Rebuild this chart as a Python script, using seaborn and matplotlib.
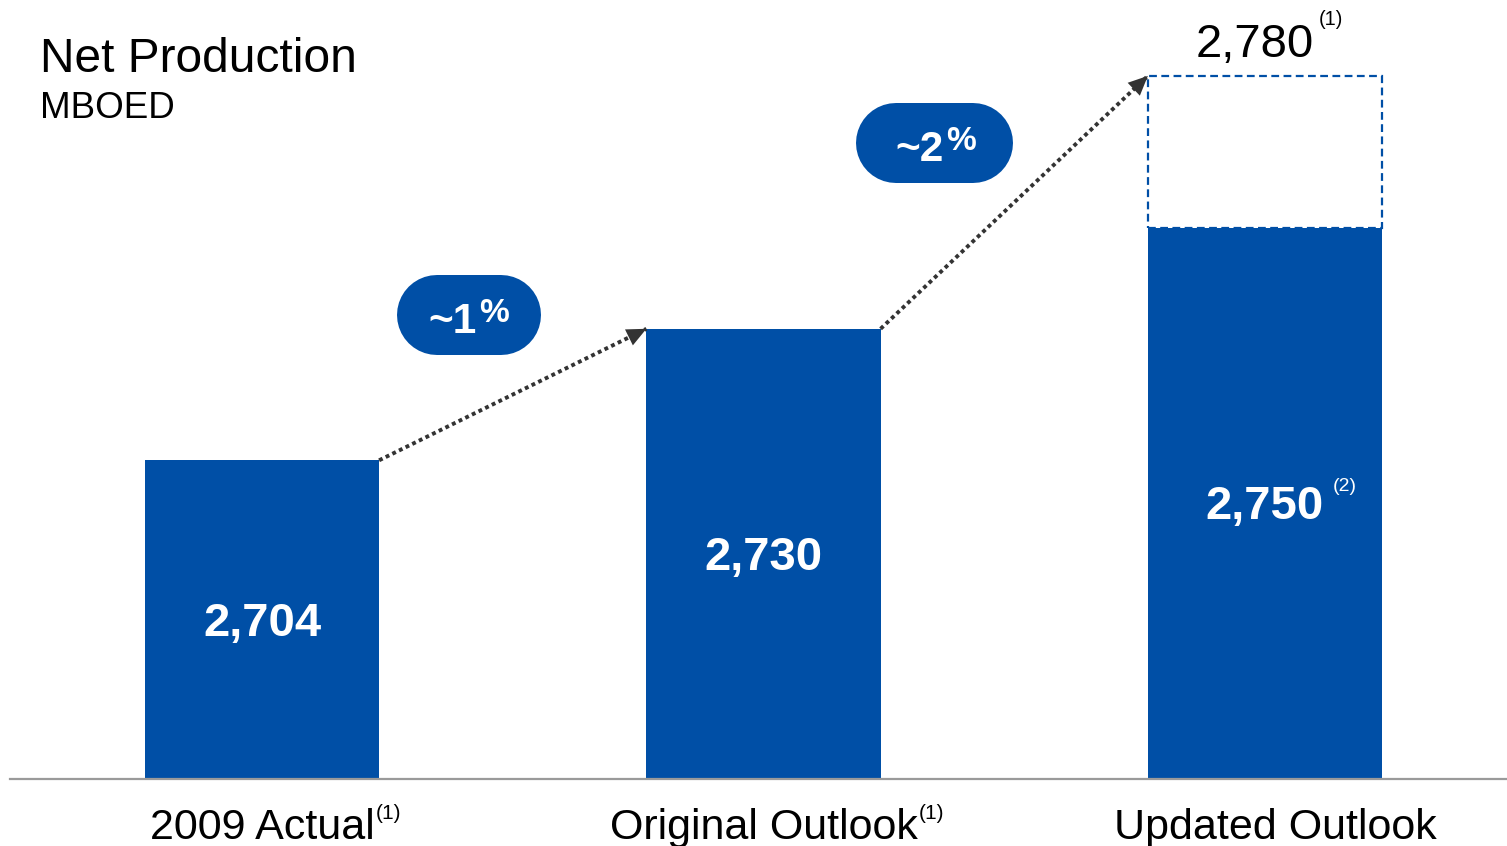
import matplotlib
matplotlib.use("Agg")
import matplotlib.pyplot as plt
from matplotlib.patches import Rectangle
from matplotlib.lines import Line2D
from matplotlib.transforms import IdentityTransform, offset_copy
import seaborn as sns
import pandas as pd

# ---------------- data ----------------
categories = ["2009 Actual", "Original Outlook", "Updated Outlook"]
values = [2704, 2730, 2750]
value_labels = ["2,704", "2,730", "2,750"]
category_notes = ["(1)", "(1)", ""]
value_notes = ["", "", "(2)"]
outlook_high = 2780
outlook_high_label = "2,780"
outlook_high_note = "(1)"
growth_labels = ["~1", "~2"]
growth_suffix = "%"
title = "Net Production"
subtitle = "MBOED"

# ---------------- style ----------------
BLUE = "#004FA6"
ARROW = "#333333"
W, H, DPI = 1507, 846, 100
BAR_W = 0.467
Y0, Y1 = 2641, 2795

sns.set_theme(style="white")
plt.rcParams["font.family"] = ["Liberation Sans", "DejaVu Sans"]

fig = plt.figure(figsize=(W / DPI, H / DPI), dpi=DPI)
fig.patch.set_facecolor("white")
ax = fig.add_axes([10 / W, 67 / H, 1497 / W, 779 / H])

df = pd.DataFrame({"category": categories, "value": values})
sns.barplot(data=df, x="category", y="value", color=BLUE, saturation=1,
            width=BAR_W, linewidth=0, ax=ax, zorder=2)

ax.set_ylim(Y0, Y1)
ax.set_xlim(-0.5025, 2.4826)
ax.set_xlabel("")
ax.set_ylabel("")
ax.set_yticks([])
for s in ["top", "left", "right"]:
    ax.spines[s].set_visible(False)
ax.spines["bottom"].set_color("#9a9a9a")
ax.spines["bottom"].set_linewidth(1.6)
ax.tick_params(axis="x", length=0, labelsize=31, pad=21, colors="black")
# last category label sits slightly right of its bar centre in the original
lbl = ax.get_xticklabels()[2]
lbl.set_transform(offset_copy(lbl.get_transform(), fig=fig, x=10, y=0, units="dots"))

# dashed outlook box
ax.add_patch(Rectangle((2 - BAR_W / 2, values[2]), BAR_W, outlook_high - values[2],
                       fill=False, edgecolor=BLUE, linestyle=(0, (3.5, 2)),
                       linewidth=1.6, zorder=3))

# value labels inside bars
val_texts = []
for i, (v, lab) in enumerate(zip(values, value_labels)):
    t = ax.annotate(lab, xy=(i, (Y0 + v) / 2), xytext=(0, -4), textcoords="offset pixels",
                    ha="center", va="center", color="white",
                    fontsize=34, fontweight="bold", zorder=4)
    val_texts.append(t)

high_text = ax.annotate(outlook_high_label, xy=(2, outlook_high), xytext=(-10, 19),
                        textcoords="offset pixels", ha="center", va="baseline",
                        fontsize=34, color="black")

# dotted arrows
hw = BAR_W / 2
segs = [((0 + hw, values[0]), (1 - hw, values[1])),
        ((1 + hw, values[1]), (2 - hw, outlook_high))]
for (x0, y0), (x1, y1) in segs:
    ax.plot([x0, x1], [y0, y1], color=ARROW, lw=2.8, linestyle=(0, (1, 0.9)),
            dash_capstyle="butt", zorder=3)
    ax.annotate("", xy=(x1, y1), xytext=(x1 - (x1 - x0) * 0.05, y1 - (y1 - y0) * 0.05),
                arrowprops=dict(arrowstyle="-|>,head_length=0.7,head_width=0.32",
                                color=ARROW, lw=0, shrinkA=0, shrinkB=0,
                                mutation_scale=20), zorder=4)

# pills (positions in inches), drawn as thick round-capped lines = stadium shape
inch = fig.dpi_scale_trans
def px(x, y):
    return x / DPI, (H - y) / DPI

pills = [((397, 541), 315, 80, (428, 333)),
         ((856, 1013), 143, 80, (895, 161))]
pill_main = []
for (xs, yc, ph, tpos), lab in zip(pills, growth_labels):
    r = ph / 2
    xa, ya = px(xs[0] + r, yc)
    xb, yb = px(xs[1] - r, yc)
    fig.lines.append(Line2D([xa, xb], [ya, yb], transform=inch, color=BLUE,
                            linewidth=ph * 72 / DPI, solid_capstyle="round"))
    tx, ty = px(*tpos)
    t = fig.text(tx, ty, lab, transform=inch, ha="left", va="baseline", color="white",
                 fontsize=30.5, fontweight="bold")
    pill_main.append((t, ty))

# titles
fig.text(40 / W, 1 - 72 / H, title, ha="left", va="baseline", fontsize=34.5, color="black")
fig.text(40 / W, 1 - 118 / H, subtitle, ha="left", va="baseline", fontsize=26.5, color="black")

# superscripts placed next to their text
fig.canvas.draw()
renderer = fig.canvas.get_renderer()
ident = IdentityTransform()

def add_sup(tobj, note, size, gap, dy, color, weight="normal"):
    if not note:
        return
    bb = tobj.get_window_extent(renderer)
    fig.text(bb.x1 + gap, bb.y1 + dy, note, transform=ident, ha="left", va="top",
             fontsize=size, color=color, fontweight=weight)

for t, note in zip(ax.get_xticklabels(), category_notes):
    add_sup(t, note, 15, 1, 4, "black")
for t, note in zip(val_texts, value_notes):
    add_sup(t, note, 14, 9, 7, "white")
add_sup(high_text, outlook_high_note, 14.5, 5, 13, "black")
for t, _ in pill_main:
    add_sup(t, growth_suffix, 24, 3, 4, "white", "bold")

fig.savefig("out.png", dpi=DPI, facecolor="white")
